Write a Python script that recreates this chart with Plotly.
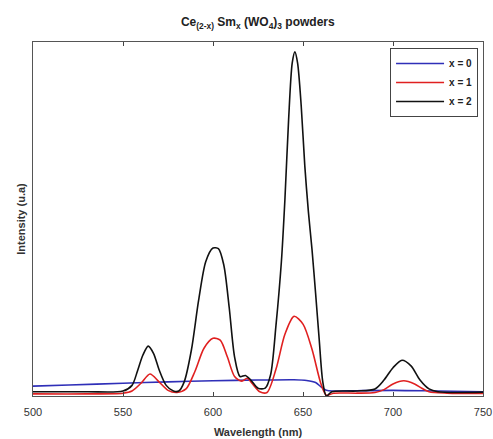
import plotly.graph_objects as go

# Emission spectra of Ce(2-x)Sm_x(WO4)3 powders (arbitrary intensity units)
wl_x0 = [500, 520, 550, 575, 600, 625, 645, 652, 657, 660, 663, 667, 680, 700, 725, 750]
int_x0 = [28, 31, 36, 40, 43, 45, 46, 44, 38, 26, 16, 14, 15, 16, 14, 12]

wl_x1 = [500, 530, 550, 555, 560, 565, 570, 575, 580, 585, 590, 595, 600, 604, 608, 612,
         616, 619, 622, 626, 630, 635, 640, 645, 650, 655, 660, 663, 667, 680, 690, 695,
         700, 706, 712, 716, 720, 730, 750]
int_x1 = [6, 6, 8, 14, 36, 62, 40, 16, 10, 20, 70, 135, 163, 158, 110, 55,
          42, 50, 34, 12, 10, 76, 175, 225, 203, 132, 34, 2, 8, 8, 10, 18,
          34, 43, 34, 22, 12, 8, 7]

wl_x2 = [500, 530, 550, 555, 558, 561, 564, 567, 570, 574, 578, 581, 584, 588, 592, 596,
         600, 603, 606, 609, 612, 615, 618, 621, 625, 629, 632, 635, 638, 640, 642, 644,
         645.5, 647, 649, 651, 653, 655, 657, 659, 661, 663, 666, 680, 690, 695, 700, 705,
         710, 715, 720, 725, 750]
int_x2 = [12, 12, 14, 30, 70, 115, 141, 120, 75, 30, 14, 14, 40, 130, 270, 380,
          418, 416, 370, 250, 110, 55, 58, 45, 22, 22, 60, 200, 380, 560, 780, 940,
          972, 940, 820, 650, 520, 414, 290, 160, 40, 0, 12, 14, 20, 45, 80, 101,
          85, 45, 20, 12, 11]

series = [
    ("x = 0", wl_x0, int_x0, "#2f2fb8"),
    ("x = 1", wl_x1, int_x1, "#e02020"),
    ("x = 2", wl_x2, int_x2, "#111111"),
]

fig = go.Figure()
for name, wl, val, color in series:
    fig.add_trace(go.Scatter(
        x=wl, y=val, name=f"<b>{name}</b>", mode="lines",
        line=dict(color=color, width=1.6, shape="spline", smoothing=0.8),
    ))

font_family = "Liberation Sans, Arial, sans-serif"

fig.update_layout(
    width=493, height=439,
    margin=dict(l=33, r=10, t=42, b=43),
    paper_bgcolor="white", plot_bgcolor="white",
    font=dict(family=font_family, size=11, color="#222222"),
    title=dict(
        text="<b>Ce<sub>(2-x)</sub> Sm<sub>x</sub> (WO<sub>4</sub>)<sub>3</sub> powders</b>",
        x=0.523, xanchor="center", y=0.95, yanchor="middle",
        font=dict(size=12, color="#222222"),
    ),
    xaxis=dict(
        range=[500, 750], tickvals=[500, 550, 600, 650, 700, 750],
        ticks="inside", ticklen=4, tickcolor="#444444",
        ticklabelstandoff=6, automargin=False,
        showline=True, linecolor="#555555", linewidth=1, mirror="ticks",
        showgrid=False, zeroline=False,
        tickfont=dict(size=11, color="#333333"),
        title=dict(text="<b>Wavelength (nm)</b>", standoff=11,
                   font=dict(size=11, color="#333333")),
    ),
    yaxis=dict(
        range=[0, 1000], showticklabels=False, ticks="", automargin=False,
        showline=True, linecolor="#555555", linewidth=1, mirror=True,
        showgrid=False, zeroline=False,
        title=dict(text="<b>Intensity (u.a)</b>", standoff=4,
                   font=dict(size=11, color="#333333")),
    ),
    legend=dict(
        x=0.989, xanchor="right", y=0.983, yanchor="top",
        bordercolor="#444444", borderwidth=1, bgcolor="white",
        font=dict(size=10, color="#222222"),
        itemwidth=48, tracegroupgap=0,
    ),
    showlegend=True,
)

fig.write_html("out.html")
